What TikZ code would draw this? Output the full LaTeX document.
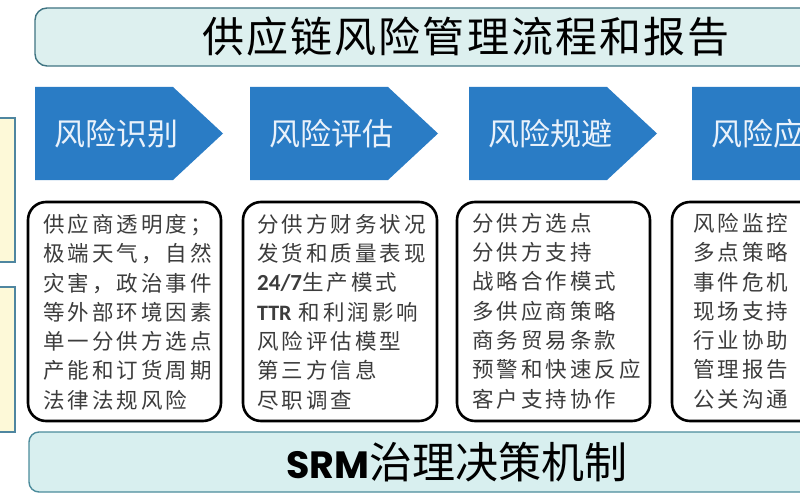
\documentclass[tikz,border=0pt]{standalone}
\usepackage{fontspec}
\setmainfont{Noto Sans CJK SC}
\newfontfamily\cjk{Noto Sans CJK SC}
\newfontfamily\cjkbox{Noto Sans CJK SC}[LetterSpace=14]
\newfontfamily\cjktitle{Noto Sans CJK SC}[LetterSpace=5]
\newfontfamily\calb{Carlito}
\newfontfamily\popb{Poppins}
\definecolor{titlefill}{HTML}{DDF0EF}
\definecolor{titledraw}{HTML}{3F7482}
\definecolor{chev}{HTML}{2A7CC5}
\definecolor{chevtext}{HTML}{EAF2FB}
\definecolor{boxtext}{HTML}{3C3C3C}
\definecolor{botfill}{HTML}{D8EFEF}
\definecolor{botdraw}{HTML}{4C8C9C}
\definecolor{yel}{HTML}{FDF9D8}
\definecolor{yeldraw}{HTML}{4F86A0}
\tikzset{
  banner/.style={fill=titlefill, draw=titledraw, line width=1.4pt, rounded corners=12pt},
  botbanner/.style={fill=botfill, draw=botdraw, line width=1.4pt, rounded corners=10pt},
  chevshape/.style={fill=chev, draw=none},
  chevlabel/.style={text=chevtext, font=\cjk\fontsize{31}{36}\selectfont, inner sep=0pt},
  contentbox/.style={fill=white, draw=black, line width=2.6pt, rounded corners=18pt},
  contenttext/.style={text=boxtext, align=left, anchor=north west, inner sep=0pt,
    font=\cjkbox\fontsize{21.5}{29.3}\selectfont},
  sidebox/.style={fill=yel, draw=yeldraw, line width=1.2pt},
}
\begin{document}
\begin{tikzpicture}[x=1pt,y=-1pt]
\useasboundingbox (0,0) rectangle (800,500);
\fill[white] (0,0) rectangle (800,500);
% side boxes (cut off at left)
\draw[sidebox] (-10,118) rectangle (15,262);
\draw[sidebox] (-10,287) rectangle (15,432);
% title banner
\draw[banner] (35,8) rectangle (830,66);
\node[inner sep=0pt, font=\cjktitle\fontsize{42}{48}\selectfont, text=black] (title) at (466,37) {供应链风险管理流程和报告};
% chevrons
\foreach \x/\n/\t in {35/c1/风险识别, 250/c2/风险评估, 469/c3/风险规避, 692/c4/风险应对}{
  \fill[chevshape] (\x,87) -- (\x+138,87) -- (\x+188,133.5) -- (\x+138,180) -- (\x,180) -- cycle;
  \node[chevlabel] (\n) at (\x+81,134) {\t};
}
% content boxes
\draw[contentbox] (28,202) rectangle (221,421);
\draw[contentbox] (243,202) rectangle (437,421);
\draw[contentbox] (457,202) rectangle (650,421);
\draw[contentbox] (672,202) rectangle (880,421);
\node[contenttext] (t1) at (43,214) {供应商透明度；\\极端天气，自然\\灾害，政治事件\\等外部环境因素\\单一分供方选点\\产能和订货周期\\法律法规风险};
\node[contenttext] (t2) at (257,214) {分供方财务状况\\发货和质量表现\\{\calb\bfseries\fontsize{23}{29.3}\selectfont 24/7}生产模式\\{\calb\bfseries\fontsize{22}{29.3}\selectfont TTR}\hspace{7pt}和利润影响\\风险评估模型\\第三方信息\\尽职调查};
\node[contenttext] (t3) at (472,213) {分供方选点\\分供方支持\\战略合作模式\\多供应商策略\\商务贸易条款\\预警和快速反应\\客户支持协作};
\node[contenttext] (t4) at (693,213) {风险监控\\多点策略\\事件危机\\现场支持\\行业协助\\管理报告\\公关沟通};
% bottom banner
\draw[botbanner] (29,432) rectangle (830,492);
\node[inner sep=0pt, text=black] (srm) at (457,462) {{\popb\bfseries\fontsize{38}{44}\selectfont SRM}{\cjk\fontsize{43}{48}\selectfont 治理决策机制}};
\end{tikzpicture}
\end{document}
